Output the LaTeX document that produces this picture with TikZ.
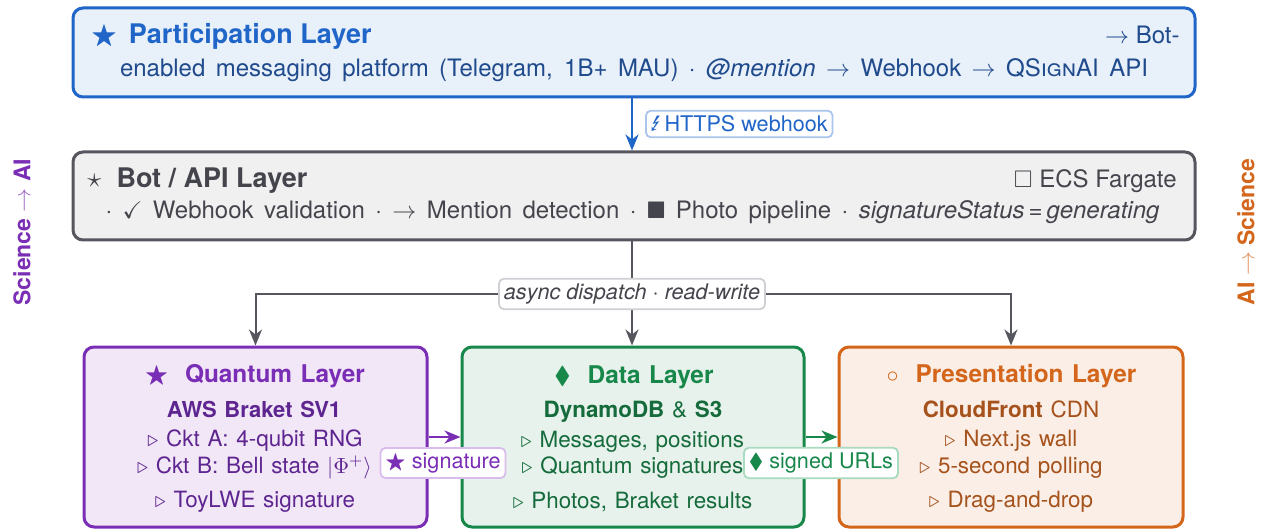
\documentclass[tikz,border=0pt]{standalone}
\usepackage{amssymb}
\usepackage{marvosym}
\usepackage{fontspec}
\setmainfont{TeX Gyre Heros}
\usetikzlibrary{arrows.meta}
\newcommand\mywidesp{\spaceskip=1.25\fontdimen2\font\relax}
\definecolor{pblue}{HTML}{2065C8}
\definecolor{pbluef}{HTML}{E8F0FA}
\definecolor{pbluet}{HTML}{1F4A8C}
\definecolor{pbluel}{HTML}{A9C5EC}
\definecolor{bgray}{HTML}{56565F}
\definecolor{bgrayf}{HTML}{F0F0F0}
\definecolor{bgrayt}{HTML}{44444C}
\definecolor{bgrayl}{HTML}{CFCFD4}
\definecolor{qpur}{HTML}{7A2DB5}
\definecolor{qpurf}{HTML}{F1E7F7}
\definecolor{qpurt}{HTML}{5E2590}
\definecolor{qpurl}{HTML}{D9BCEB}
\definecolor{dgrn}{HTML}{17884A}
\definecolor{dgrnf}{HTML}{E6F2EB}
\definecolor{dgrnt}{HTML}{156B3B}
\definecolor{dgrnl}{HTML}{A9DBC0}
\definecolor{pora}{HTML}{D4661B}
\definecolor{poraf}{HTML}{FAEEE6}
\definecolor{porat}{HTML}{A5521C}
\tikzset{
  layerbox/.style={rectangle, rounded corners=5pt, line width=1.5pt, inner sep=0pt},
  txt/.style={inner sep=0pt, anchor=base},
  toptitle/.style={txt, font=\fontsize{13.5}{16}\selectfont\bfseries},
  topbody/.style={txt, font=\fontsize{12}{14}\selectfont},
  lowtitle/.style={txt, font=\fontsize{12.2}{14}\selectfont\bfseries},
  lowbody/.style={txt, font=\fontsize{11.2}{13}\selectfont},
  tag/.style={rectangle, rounded corners=2.5pt, line width=0.9pt, fill=white, inner xsep=2.5pt, inner ysep=2.5pt, font=\fontsize{10.8}{13}\selectfont},
  side/.style={inner sep=0pt, rotate=90, font=\fontsize{11.5}{14}\selectfont\bfseries},
  tip/.style={-{Stealth[length=8pt,width=6.5pt,inset=2.5pt]}}
}
\begin{document}
\begin{tikzpicture}[x=0.5pt,y=-0.5pt]
\useasboundingbox (0,0) rectangle (1263,529);
% layer boxes
\node[layerbox, draw=pblue, fill=pbluef, minimum width=561pt, minimum height=44.5pt] (part) at (634,52.5) {};
\node[layerbox, draw=bgray, fill=bgrayf, minimum width=561pt, minimum height=44pt] (bot) at (634,196) {};
\node[layerbox, draw=qpur, fill=qpurf, minimum width=171.5pt, minimum height=90pt] (quant) at (255.5,437) {};
\node[layerbox, draw=dgrn, fill=dgrnf, minimum width=171pt, minimum height=90pt] (data) at (633,437) {};
\node[layerbox, draw=pora, fill=poraf, minimum width=172pt, minimum height=90pt] (pres) at (1011,437) {};
% participation text
\node[toptitle, anchor=base west, text=pblue] (parttitle) at (91,44) {$\bigstar$\,\ Participation Layer};
\node[topbody, anchor=base east, text=pbluet] (partright) at (1180,44) {$\rightarrow$ Bot-};
\node[topbody, text=pbluet] (partline) at (634,77) {\makebox[514pt][s]{enabled messaging platform (Telegram, 1B+ MAU) $\cdot$ \textit{@mention} $\rightarrow$ Webhook $\rightarrow$ Q\textsc{Sign}AI API}};
% bot text
\node[toptitle, anchor=base west, text=bgrayt] (bottitle) at (87,188) {$\star$\ \ Bot / API Layer};
\node[topbody, anchor=base east, text=bgrayt] (botright) at (1177,188) {$\Box$ ECS Fargate};
\node[topbody, text=bgrayt] (botline) at (632.5,219) {\makebox[527pt][s]{$\cdot$ $\checkmark$ Webhook validation $\cdot$ $\rightarrow$ Mention detection $\cdot$ $\blacksquare$ Photo pipeline $\cdot$ \textit{signatureStatus}\,=\,\textit{generating}}};
% quantum text
\node[lowtitle, text=qpur] (qt) at (255,382) {\mywidesp$\bigstar$\ \ Quantum Layer};
\node[lowbody, text=qpurt, font=\fontsize{11}{13}\selectfont\bfseries] (q1) at (254,417) {\mywidesp AWS Braket SV1};
\node[lowbody, text=qpurt] (q2) at (255,446) {\mywidesp$\triangleright$ Ckt A: 4-qubit RNG};
\node[lowbody, text=qpurt] (q3) at (254.5,473) {\mywidesp$\triangleright$ Ckt B: Bell state $|\Phi^{+}\rangle$};
\node[lowbody, text=qpurt] (q4) at (255,507) {\mywidesp$\triangleright$ ToyLWE signature};
% data text
\node[lowtitle, text=dgrn] (dt) at (634,383) {\mywidesp$\blacklozenge$\ \ Data Layer};
\node[lowbody, text=dgrnt] (d1) at (633,417) {\mywidesp\textbf{DynamoDB} \& \textbf{S3}};
\node[lowbody, text=dgrnt] (d2) at (632.5,447) {\mywidesp$\triangleright$ Messages, positions};
\node[lowbody, text=dgrnt] (d3) at (632.5,473) {\mywidesp$\triangleright$ Quantum signatures};
\node[lowbody, text=dgrnt] (d4) at (632.5,508) {\mywidesp$\triangleright$ Photos, Braket results};
% presentation text
\node[lowtitle, text=pora] (pt) at (1011.5,382) {\mywidesp$\circ$\ \ Presentation Layer};
\node[lowbody, text=porat] (p1) at (1011,417) {\mywidesp\textbf{CloudFront} CDN};
\node[lowbody, text=porat] (p2) at (1011,446) {\mywidesp$\triangleright$ Next.js wall};
\node[lowbody, text=porat] (p3) at (1011,473) {\mywidesp$\triangleright$ 5-second polling};
\node[lowbody, text=porat] (p4) at (1011,507) {\mywidesp$\triangleright$ Drag-and-drop};
% side labels
\node[side, text=qpur] (sciai) at (22,232) {Science {\mdseries\color{qpur!70}$\rightarrow$} AI};
\node[side, text=pora] (aisci) at (1246,232) {AI {\mdseries\color{pora!70}$\rightarrow$} Science};
% connectors
\draw[tip, draw=pblue, line width=1.3pt] (part.south -| 632,0) -- (bot.north -| 632,0);
\node[tag, draw=pbluel, text=pblue, anchor=west] (https) at (645,124) {\Lightning\,HTTPS webhook};
\coordinate (split) at (632,294);
\draw[bgray, line width=1pt] (bot.south -| split) -- (split);
\draw[tip, bgray, line width=1pt] (split) -| (quant.north);
\draw[tip, bgray, line width=1pt] (split) -- (data.north -| split);
\draw[tip, bgray, line width=1pt] (split) -| (pres.north);
\node[tag, draw=bgrayl, text=bgrayt, font=\fontsize{10.8}{13}\selectfont\itshape] (async) at (split) {async dispatch $\cdot$ read-write};
\draw[tip, qpur, line width=1.2pt] (quant.east |- 0,437) -- (data.west |- 0,437);
\node[tag, draw=qpurl, text=qpur] (sig) at (443,463) {$\bigstar$ signature};
\draw[tip, dgrn, line width=1.2pt] (data.east |- 0,437) -- (pres.west |- 0,437);
\node[tag, draw=dgrnl, text=dgrn] (urls) at (821,463) {$\blacklozenge$ signed URLs};
\end{tikzpicture}
\end{document}
